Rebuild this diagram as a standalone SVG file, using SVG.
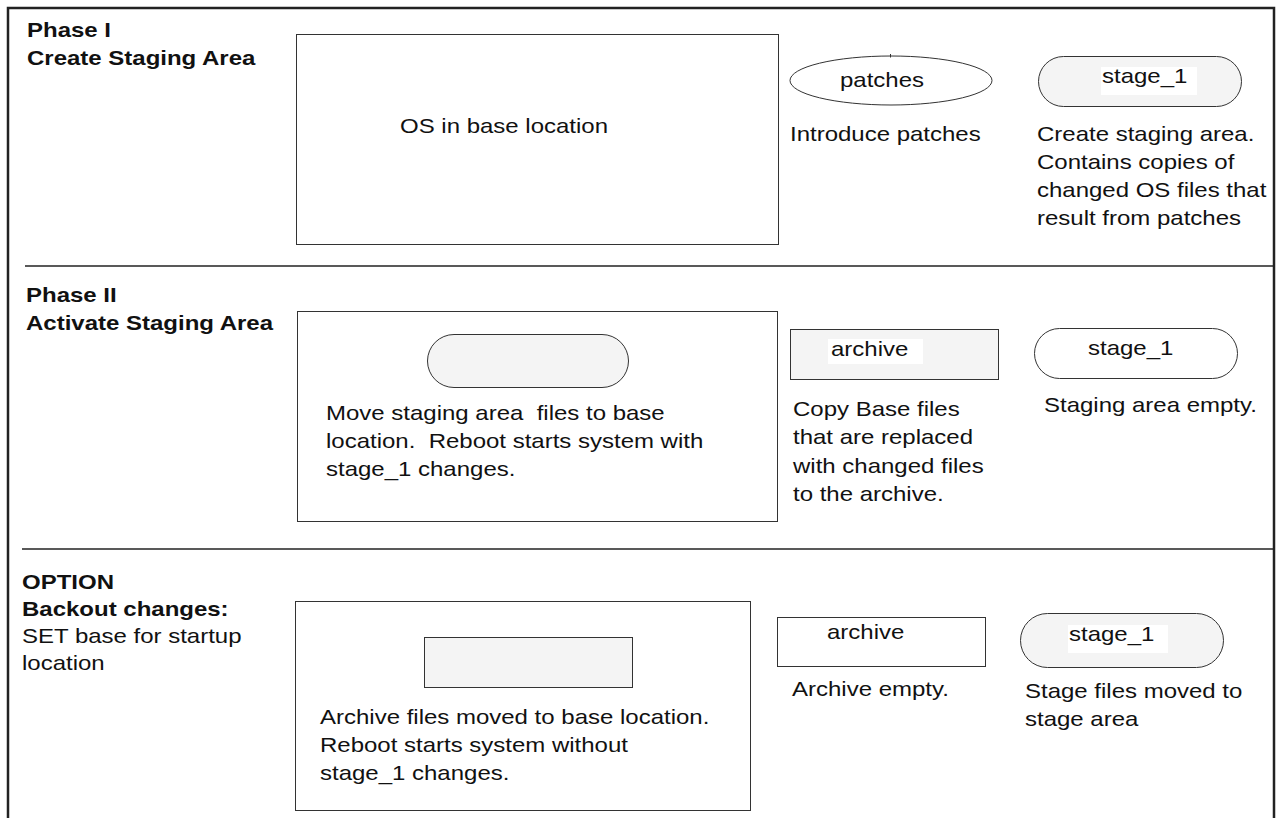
<svg xmlns="http://www.w3.org/2000/svg" width="1282" height="818" viewBox="0 0 1282 818">
<style>
text{font-family:"Liberation Sans",Arial,sans-serif;font-size:20px;fill:#111}
.b{font-weight:bold}
.box{fill:#fff;stroke:#333;stroke-width:1}
.gray{fill:#f4f4f4;stroke:#333;stroke-width:1}
.wbg{fill:#fff;stroke:none}
.frame{fill:none;stroke:#222;stroke-width:2.5}
.sep{stroke:#222;stroke-width:1.5}
</style>
<rect width="1282" height="818" fill="#fff"/>
<g id="frame">
<path class="frame" d="M8,818 V8 H1274 V818"/>
<line class="sep" x1="25" y1="266" x2="1274" y2="266"/>
<line class="sep" x1="22" y1="549" x2="1274" y2="549"/>
</g>
<g id="label-phase1">
<text class="b" transform="translate(27 37) scale(1.2 1)"><tspan x="0" y="0">Phase I</tspan><tspan x="0" dy="28">Create Staging Area</tspan></text>
</g>
<g id="label-phase2">
<text class="b" transform="translate(26 302) scale(1.2 1)"><tspan x="0" y="0">Phase II</tspan><tspan x="0" dy="28">Activate Staging Area</tspan></text>
</g>
<g id="label-option">
<text transform="translate(22 589) scale(1.2 1)"><tspan class="b" x="0" y="0">OPTION</tspan><tspan class="b" x="0" dy="27">Backout changes:</tspan><tspan x="0" dy="27">SET base for startup</tspan><tspan x="0" dy="27">location</tspan></text>
</g>
<g id="p1-os">
<rect class="box" x="296.5" y="34.5" width="482" height="210"/>
<text transform="translate(400 133) scale(1.2 1)">OS in base location</text>
</g>
<g id="p1-patches">
<ellipse class="box" cx="891" cy="80.5" rx="101" ry="24.5"/>
<line x1="890.5" y1="54" x2="890.5" y2="57.5" stroke="#333" stroke-width="1"/>
<text transform="translate(840 87) scale(1.2 1)">patches</text>
<text transform="translate(790 141) scale(1.2 1)">Introduce patches</text>
</g>
<g id="p1-stage">
<rect class="gray" x="1038.5" y="56.5" width="203" height="50" rx="25" ry="25"/>
<rect class="wbg" x="1101" y="67" width="96" height="28"/>
<text transform="translate(1102 83) scale(1.2 1)">stage_1</text>
<text transform="translate(1037 141) scale(1.2 1)"><tspan x="0" y="0">Create staging area.</tspan><tspan x="0" dy="28">Contains copies of</tspan><tspan x="0" dy="28">changed OS files that</tspan><tspan x="0" dy="28">result from patches</tspan></text>
</g>
<g id="p2-base">
<rect class="box" x="297.5" y="311.5" width="480" height="210"/>
<rect class="gray" x="427.5" y="334.5" width="201" height="53" rx="26.5" ry="26.5"/>
<text transform="translate(326 420) scale(1.2 1)"><tspan x="0" y="0" xml:space="preserve">Move staging area  files to base</tspan><tspan x="0" dy="28" xml:space="preserve">location.  Reboot starts system with</tspan><tspan x="0" dy="28">stage_1 changes.</tspan></text>
</g>
<g id="p2-archive">
<rect class="gray" x="790.5" y="329.5" width="208" height="50"/>
<rect class="wbg" x="828" y="339" width="95" height="25"/>
<text transform="translate(831 356) scale(1.2 1)">archive</text>
<text transform="translate(793 416) scale(1.2 1)"><tspan x="0" y="0">Copy Base files</tspan><tspan x="0" dy="28.5">that are replaced</tspan><tspan x="0" dy="28.5">with changed files</tspan><tspan x="0" dy="28.5">to the archive.</tspan></text>
</g>
<g id="p2-stage">
<rect class="box" x="1034.5" y="328.5" width="203" height="50" rx="25" ry="25"/>
<text transform="translate(1088 355) scale(1.2 1)">stage_1</text>
<text transform="translate(1044 412) scale(1.2 1)">Staging area empty.</text>
</g>
<g id="opt-base">
<rect class="box" x="295.5" y="601.5" width="455" height="209"/>
<rect class="gray" x="424.5" y="637.5" width="208" height="50"/>
<text transform="translate(320 724) scale(1.2 1)"><tspan x="0" y="0">Archive files moved to base location.</tspan><tspan x="0" dy="28">Reboot starts system without</tspan><tspan x="0" dy="28">stage_1 changes.</tspan></text>
</g>
<g id="opt-archive">
<rect class="box" x="777.5" y="617.5" width="208" height="49"/>
<text transform="translate(827 639) scale(1.2 1)">archive</text>
<text transform="translate(792 696) scale(1.2 1)">Archive empty.</text>
</g>
<g id="opt-stage">
<rect class="gray" x="1020.5" y="613.5" width="203" height="54" rx="27" ry="27"/>
<rect class="wbg" x="1068" y="625" width="100" height="28"/>
<text transform="translate(1069 641) scale(1.2 1)">stage_1</text>
<text transform="translate(1025 698) scale(1.2 1)"><tspan x="0" y="0">Stage files moved to</tspan><tspan x="0" dy="28">stage area</tspan></text>
</g>
<g id="connectors"></g>
</svg>
